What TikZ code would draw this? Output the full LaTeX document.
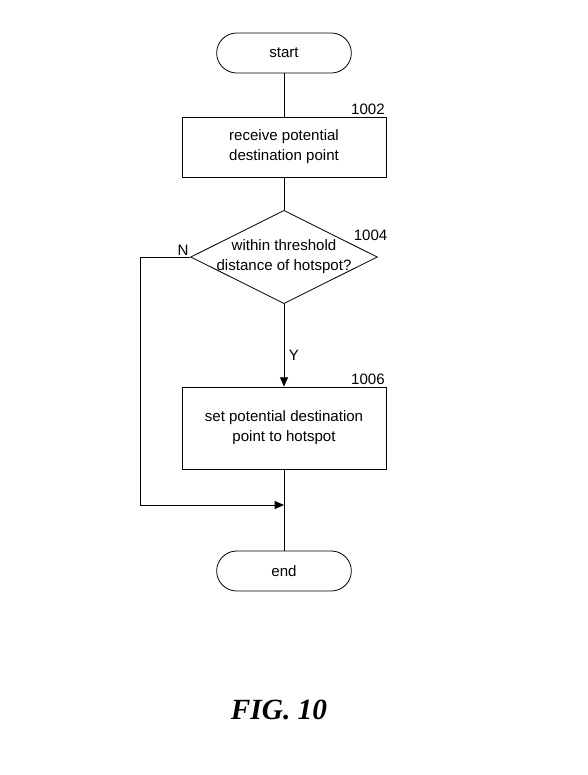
\documentclass[tikz,border=0pt]{standalone}
\usepackage{fontspec}
\setmainfont{Liberation Sans}
\newfontfamily\figfont{Liberation Serif}
\usetikzlibrary{shapes.geometric,arrows.meta}

\begin{document}
\begin{tikzpicture}[
    x=0.75pt, y=-0.75pt,
    font=\fontsize{11.3}{15}\selectfont,
    >={Triangle[length=7pt,width=6pt]},
    line width=0.6pt,
    terminal/.style={
        draw=black,
        rounded corners=15pt,
        minimum width=101pt,
        minimum height=30pt,
        inner sep=0pt
    },
    stepbox/.style={
        draw=black,
        align=center,
        minimum width=153pt,
        inner sep=0pt
    },
    decision/.style={
        draw=black,
        diamond,
        minimum width=140pt,
        minimum height=70pt,
        inner sep=0pt
    },
    refnum/.style={
        anchor=south east,
        inner sep=1pt
    }
]

\useasboundingbox (0,0) rectangle (588,775);

\node[terminal] (start) at (284,53) {start};
\node[stepbox, minimum height=45pt] (b1002) at (284,147) {receive potential\\destination point};
\node[decision, label={[align=center]center:within threshold\\distance of hotspot?}] (d1004) at (284,257) {};
\node[stepbox, minimum height=61.5pt] (b1006) at (284,428) {set potential destination\\point to hotspot};
\node[terminal] (end) at (284,571) {end};

\node[refnum] (n1002) at (b1002.north east) {1002};
\node[refnum] (n1004) at (389,242) {1004};
\node[refnum] (n1006) at (b1006.north east) {1006};

\coordinate (join) at (284,505);

\draw (start) -- (b1002);
\draw (b1002) -- (d1004);
\draw[->] (d1004) -- node[right, pos=0.62] (yes) {Y} (b1006);
\draw[->] (d1004.west) -- (140,257) |- (join);
\node[anchor=south east, inner sep=1pt] (no) at (d1004.west) {N};
\draw (b1006) -- (end);

\node[font=\figfont\bfseries\itshape\fontsize{22}{26}\selectfont] (fig) at (279,710) {FIG. 10};

\end{tikzpicture}
\end{document}
